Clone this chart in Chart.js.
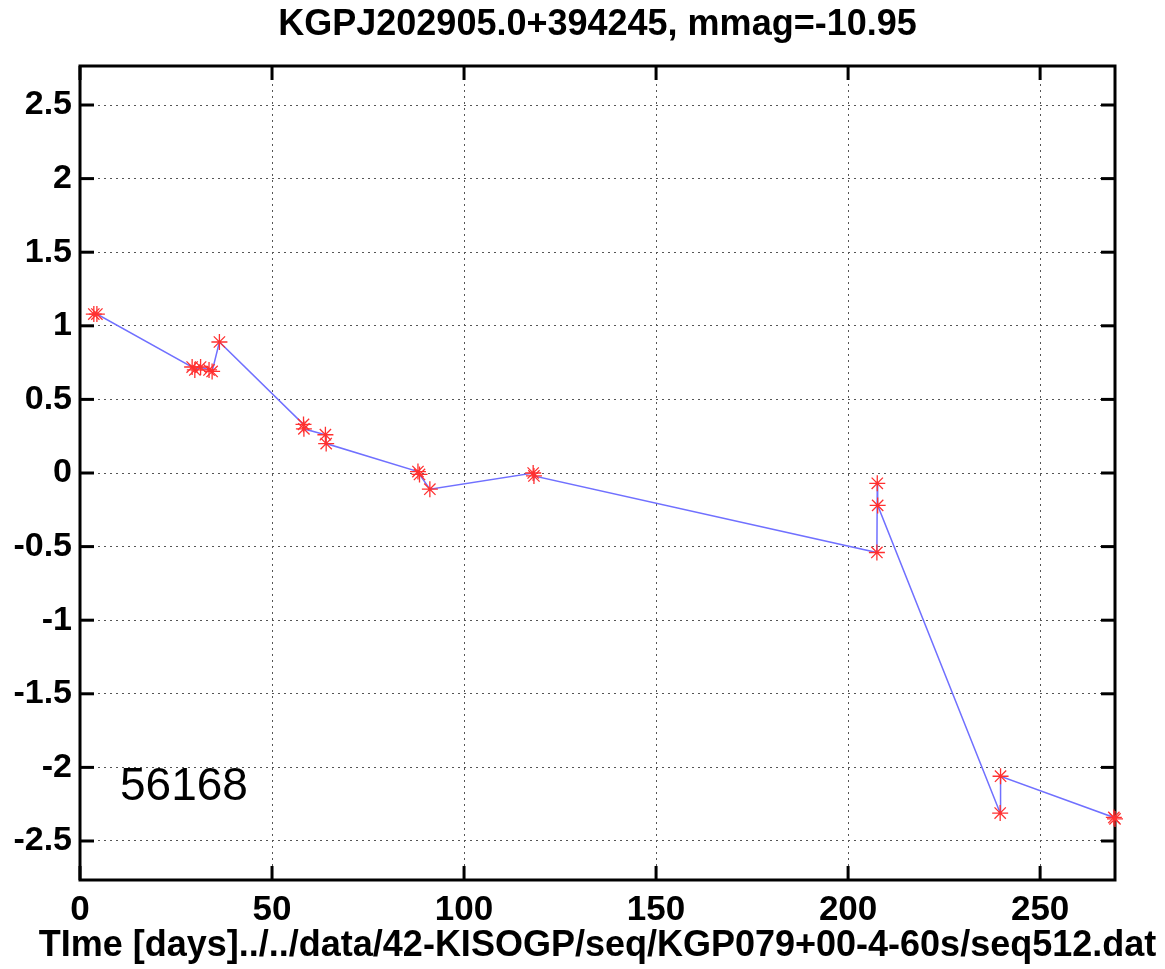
<!DOCTYPE html>
<html>
<head>
<meta charset="utf-8">
<script src="https://cdn.jsdelivr.net/npm/chart.js@4"></script>
<style>
html, body { margin: 0; padding: 0; background: #fff; }
</style>
</head>
<body>
<canvas id="lightCurve" width="1165" height="969"></canvas>
<script>
// light curve samples, in the order they are joined by the line
var times = [3.6, 4.4, 29.2, 29.9, 31.4, 33.6, 34.4, 36.3, 58.2, 58.3, 63.9, 64.1,
  88.0, 88.4, 91.1, 118.0, 118.2, 207.5, 207.6, 207.7, 239.6, 239.7, 269.2, 269.5];
var mags = [1.08, 1.08, 0.72, 0.70, 0.72, 0.70, 0.69, 0.89, 0.33, 0.30, 0.26, 0.20,
  0.01, -0.01, -0.11, 0.0, -0.02, -0.54, -0.07, -0.22, -2.31, -2.06, -2.34, -2.35];

var xTicks = [0, 50, 100, 150, 200, 250];
var yTicks = [-2.5, -2, -1.5, -1, -0.5, 0, 0.5, 1, 1.5, 2, 2.5];

var titleText = 'KGPJ202905.0+394245, mmag=-10.95';
var xLabel = 'TIme [days]../../data/42-KISOGP/seq/KGP079+00-4-60s/seq512.dat';
var stampText = '56168';

var fontFamily = "'Liberation Sans', Arial, Helvetica, sans-serif";

var points = times.map(function(t, i) {
  return { x: t, y: mags[i] };
});

function line(ctx, x1, y1, x2, y2) {
  ctx.beginPath();
  ctx.moveTo(x1, y1);
  ctx.lineTo(x2, y2);
  ctx.stroke();
}

// matlab style box with ticks pointing inwards
var framePlugin = {
  id: 'frame',
  beforeDatasetsDraw: function(chart) {
    var ctx = chart.ctx;
    var a = chart.chartArea;
    var len = 14;
    ctx.save();
    ctx.strokeStyle = '#000';
    ctx.lineWidth = 3;
    ctx.strokeRect(a.left, a.top, a.right - a.left, a.bottom - a.top);
    chart.scales.x.ticks.forEach(function(t) {
      var px = chart.scales.x.getPixelForValue(t.value);
      line(ctx, px, a.bottom, px, a.bottom - len);
      line(ctx, px, a.top, px, a.top + len);
    });
    chart.scales.y.ticks.forEach(function(t) {
      var py = chart.scales.y.getPixelForValue(t.value);
      line(ctx, a.left, py, a.left + len, py);
      line(ctx, a.right, py, a.right - len, py);
    });
    ctx.restore();
  },
  afterDraw: function(chart) {
    var ctx = chart.ctx;
    var a = chart.chartArea;
    var cx = (a.left + a.right) / 2;
    ctx.save();
    ctx.fillStyle = '#000';
    ctx.textAlign = 'center';
    ctx.textBaseline = 'middle';
    ctx.font = 'bold 36px ' + fontFamily;
    ctx.fillText(titleText, cx, 25);
    ctx.fillText(xLabel, cx, 946);
    ctx.font = '46px ' + fontFamily;
    ctx.textAlign = 'left';
    ctx.textBaseline = 'alphabetic';
    ctx.fillText(stampText, 120, 800);
    ctx.restore();
  }
};

var ctx = document.getElementById('lightCurve').getContext('2d');

var chart = new Chart(ctx, {
  type: 'scatter',
  data: {
    datasets: [{
      data: points,
      showLine: true,
      borderColor: '#7070ff',
      borderWidth: 1.5,
      pointStyle: 'star',
      pointRadius: 8,
      pointBorderColor: '#ff3030',
      pointBackgroundColor: '#ff3030',
      pointBorderWidth: 1.3,
      clip: false
    }]
  },
  options: {
    responsive: false,
    animation: false,
    layout: {
      padding: { top: 66, left: 0, right: 50, bottom: 0 }
    },
    plugins: {
      legend: { display: false },
      tooltip: { enabled: false },
      title: { display: false }
    },
    scales: {
      x: {
        type: 'linear',
        min: 0,
        max: 269.5,
        afterBuildTicks: function(scale) {
          scale.ticks = xTicks.map(function(v) { return { value: v }; });
        },
        afterFit: function(scale) { scale.height = 89; },
        ticks: {
          padding: 9,
          color: '#000',
          font: { family: fontFamily, size: 35, weight: 'bold' },
          maxRotation: 0,
          callback: function(v) { return String(v); }
        },
        grid: { color: '#555', lineWidth: 1, drawTicks: false },
        border: { display: false, dash: [2, 4] }
      },
      y: {
        type: 'linear',
        min: -2.765,
        max: 2.765,
        afterBuildTicks: function(scale) {
          scale.ticks = yTicks.map(function(v) { return { value: v }; });
        },
        afterFit: function(scale) { scale.width = 80; },
        ticks: {
          padding: 8,
          color: '#000',
          font: { family: fontFamily, size: 34, weight: 'bold' },
          callback: function(v) { return String(v); }
        },
        grid: { color: '#555', lineWidth: 1, drawTicks: false },
        border: { display: false, dash: [2, 4] }
      }
    }
  },
  plugins: [framePlugin]
});
</script>
</body>
</html>
